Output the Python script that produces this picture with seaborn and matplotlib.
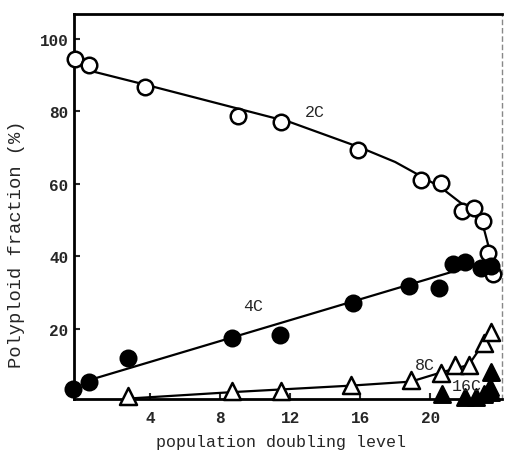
import matplotlib
matplotlib.use("Agg")
import matplotlib.pyplot as plt
import seaborn as sns
import pandas as pd

# ----------------------------------------------------------------------
# Data
# ----------------------------------------------------------------------
c2_x = [-0.3, 0.5, 3.7, 9.0, 11.5, 15.9, 19.5, 20.6, 21.8, 22.5, 23.0, 23.3, 23.6]
c2_y = [94.5, 92.8, 86.8, 78.8, 77.1, 69.4, 61.1, 60.2, 52.6, 53.4, 49.8, 41.0, 35.2]

c4_x = [-0.4, 0.5, 2.75, 8.7, 11.4, 15.6, 18.8, 20.5, 21.3, 22.0, 22.9, 23.5]
c4_y = [3.4, 5.4, 12.0, 17.5, 18.3, 27.2, 31.9, 31.3, 37.9, 38.5, 36.8, 37.4]

c8_x = [2.75, 8.7, 11.5, 15.5, 18.9, 20.6, 21.4, 22.2, 23.1, 23.5]
c8_y = [1.5, 2.9, 2.9, 4.5, 5.9, 7.9, 10.1, 10.1, 16.1, 19.2]

c16_x = [20.7, 22.0, 22.6, 23.1, 23.4, 23.5, 23.5]
c16_y = [2.0, 1.2, 1.2, 2.0, 4.0, 8.0, 2.5]

# hand-drawn fit curves
fit2_x = [0.3, 4, 8, 12, 16, 18, 19.5, 20.6, 21.8, 22.6, 23.1, 23.4, 23.6]
fit2_y = [91.5, 87.0, 82.0, 77.0, 70.0, 66.0, 62.0, 59.0, 54.5, 51.0, 47.0, 41.5, 36.0]
fit4_x = [0.3, 23.2]
fit4_y = [5.5, 38.5]
fit8_x = [3.0, 8.7, 15.5, 18.9, 20.6, 22.2, 23.5]
fit8_y = [0.8, 2.5, 4.3, 5.4, 7.9, 10.0, 19.2]

x_ticks = [4, 8, 12, 16, 20]
y_ticks = [20, 40, 60, 80, 100]

# ----------------------------------------------------------------------
# Styling
# ----------------------------------------------------------------------
sns.set_style("ticks")
plt.rcParams["font.family"] = ["Liberation Mono", "DejaVu Sans Mono"]

fig = plt.figure(figsize=(5.05, 4.56), dpi=100)
ax = fig.add_axes([0.1465, 0.1228, 0.8475, 0.844])

for fx, fy in [(fit2_x, fit2_y), (fit4_x, fit4_y), (fit8_x, fit8_y)]:
    ax.plot(fx, fy, color="black", lw=1.6, zorder=2)

series = [
    (c2_x, c2_y, "o", "white", 125),
    (c4_x, c4_y, "o", "black", 125),
    (c8_x, c8_y, "^", "white", 150),
    (c16_x, c16_y, "^", "black", 140),
]
for sx, sy, mk, fc, size in series:
    df = pd.DataFrame({"x": sx, "y": sy})
    sns.scatterplot(data=df, x="x", y="y", ax=ax, marker=mk, s=size,
                    facecolor=fc, edgecolor="black", linewidth=1.8,
                    zorder=3, clip_on=False, legend=False)

ax.text(13.4, 80.0, "2C", fontsize=12, ha="center", va="center")
ax.text(9.9, 26.3, "4C", fontsize=12, ha="center", va="center")
ax.text(19.7, 10.2, "8C", fontsize=12, ha="center", va="center")
ax.text(22.1, 4.3, "16C", fontsize=12, ha="center", va="center")

ax.set_xlim(-0.35, 24.1)
ax.set_ylim(0.6, 106.8)
ax.set_xticks(x_ticks)
ax.set_yticks(y_ticks)
ax.tick_params(direction="in", length=4, width=1.5, labelsize=11.5)
ax.tick_params(axis="y", pad=4)
ax.tick_params(axis="x", pad=8)
for lab in ax.get_xticklabels() + ax.get_yticklabels():
    lab.set_fontweight("bold")

ax.set_xlabel("population doubling level", fontsize=12)
ax.set_ylabel("Polyploid fraction (%)", fontsize=13.5)
ax.xaxis.set_label_coords(0.484, -0.091)
ax.yaxis.set_label_coords(-0.114, 0.405)

for side in ["left", "bottom", "top"]:
    ax.spines[side].set_linewidth(2)
    ax.spines[side].set_color("black")
ax.spines["right"].set_visible(True)
ax.spines["right"].set_linewidth(1)
ax.spines["right"].set_linestyle((0, (3, 3)))
ax.spines["right"].set_color("#888888")

fig.savefig("out.png", dpi=100, facecolor="white")
